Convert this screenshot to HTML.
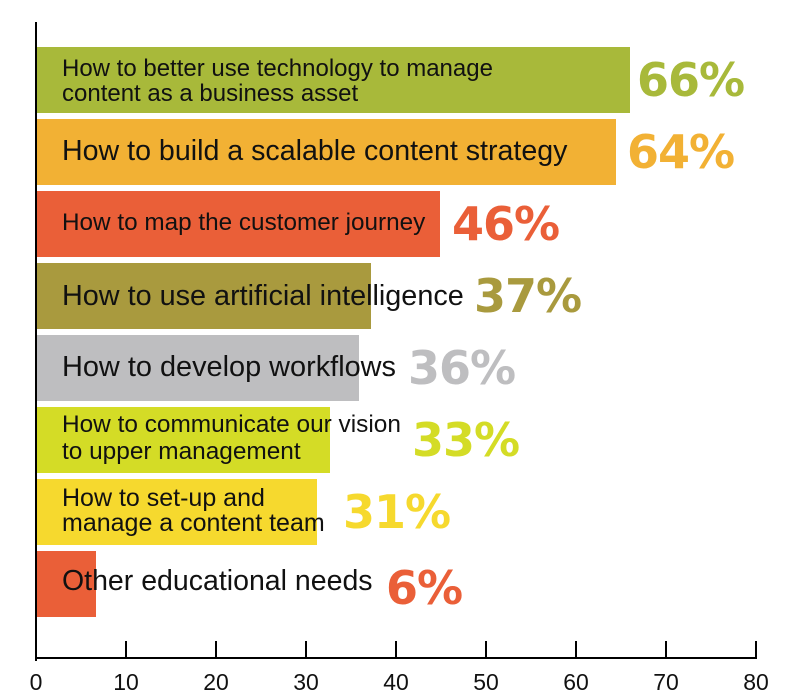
<!DOCTYPE html>
<html><head><style>
body{margin:0;width:797px;height:699px;background:#fff;position:relative;overflow:hidden;font-family:"Liberation Sans","DejaVu Sans",sans-serif;}
.bar{position:absolute;left:37px;height:66px;}
.lbl{position:absolute;left:62px;color:#111;white-space:nowrap;}
.pct{position:absolute;font-weight:bold;font-size:46px;height:66px;line-height:66px;font-family:"DejaVu Sans","Liberation Sans",sans-serif;letter-spacing:-1px;}
.tk{position:absolute;top:641px;width:2px;height:18px;background:#000;}
.tl{position:absolute;top:669px;width:40px;margin-left:-20px;text-align:center;font-size:23px;color:#111;}
</style></head><body>
<div style="position:absolute;left:35px;top:22px;width:2px;height:639px;background:#000"></div>
<div style="position:absolute;left:35px;top:657px;width:722px;height:2px;background:#000"></div>

<div class="bar" style="top:47px;width:593px;background:#a8b93a"></div>
<div class="lbl" style="top:56px;font-size:24px;line-height:25px">How to better use technology to manage<br>content as a business asset</div>
<div class="pct" style="top:47px;left:637px;color:#a8b93a">66%</div>

<div class="bar" style="top:119px;width:579px;background:#f2b134"></div>
<div class="lbl" style="top:118px;font-size:28.6px;line-height:66px">How to build a scalable content strategy</div>
<div class="pct" style="top:119px;left:627px;color:#f2b134">64%</div>

<div class="bar" style="top:191px;width:403px;background:#ea5f38"></div>
<div class="lbl" style="top:190px;font-size:24.3px;line-height:66px">How to map the customer journey</div>
<div class="pct" style="top:191px;left:452px;color:#ea5f38">46%</div>

<div class="bar" style="top:263px;width:334px;background:#a99a3e"></div>
<div class="lbl" style="top:263px;font-size:28.8px;line-height:66px">How to use artificial intelligence</div>
<div class="pct" style="top:263px;left:474px;color:#a99a3e">37%</div>

<div class="bar" style="top:335px;width:322px;background:#bebec0"></div>
<div class="lbl" style="top:334px;font-size:28.9px;line-height:66px">How to develop workflows</div>
<div class="pct" style="top:335px;left:408px;color:#bebec0">36%</div>

<div class="bar" style="top:407px;width:293px;background:#d4dc26"></div>
<div class="lbl" style="top:411px;font-size:24.4px;line-height:27px">How to communicate our vision<br>to upper management</div>
<div class="pct" style="top:407px;left:412px;color:#d4dc26">33%</div>

<div class="bar" style="top:479px;width:280px;background:#f6d92e"></div>
<div class="lbl" style="top:486px;font-size:25px;line-height:25px">How to set-up and<br>manage a content team</div>
<div class="pct" style="top:479px;left:343px;color:#f6d92e">31%</div>

<div class="bar" style="top:551px;width:59px;background:#ea5f38"></div>
<div class="lbl" style="top:548px;font-size:28.5px;line-height:66px">Other educational needs</div>
<div class="pct" style="top:555px;left:386px;color:#ea5f38">6%</div>

<div class="tk" style="left:125px"></div><div class="tk" style="left:215px"></div><div class="tk" style="left:305px"></div><div class="tk" style="left:395px"></div><div class="tk" style="left:485px"></div><div class="tk" style="left:575px"></div><div class="tk" style="left:665px"></div><div class="tk" style="left:755px"></div>
<div class="tl" style="left:36px">0</div><div class="tl" style="left:126px">10</div><div class="tl" style="left:216px">20</div><div class="tl" style="left:306px">30</div><div class="tl" style="left:396px">40</div><div class="tl" style="left:486px">50</div><div class="tl" style="left:576px">60</div><div class="tl" style="left:666px">70</div><div class="tl" style="left:756px">80</div>
</body></html>
